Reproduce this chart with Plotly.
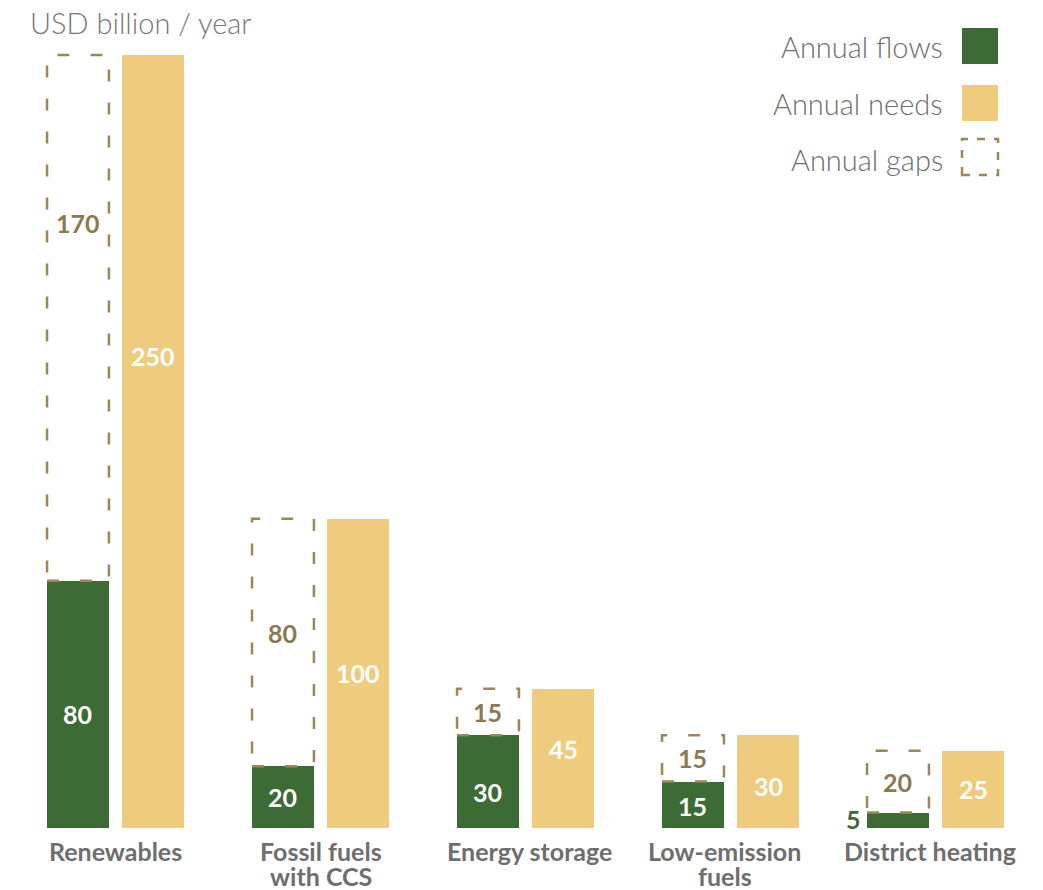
import plotly.graph_objects as go

categories = ["Renewables", "Fossil fuels<br>with CCS", "Energy storage", "Low-emission<br>fuels", "District heating"]
flows = [80, 20, 30, 15, 5]
needs = [250, 100, 45, 30, 25]
gaps = [170, 80, 15, 15, 20]

# label vertical placement (fraction of the segment height) -- styling only
flow_label_frac = [0.46, 0.5, 0.39, 0.47, 0.5]
need_label_frac = [0.61, 0.5, 0.57, 0.45, 0.5]
gap_label_frac = [0.68, 0.54, 0.5, 0.5, 0.5]
# small horizontal nudges of category labels, in px -- styling only
cat_dx = [0, 0, 4, -6, -6]

GREEN = "#3d6b35"
YELLOW = "#eecb7d"
DASH = "#9b8757"
GAPTXT = "#8b7a4f"
GREY = "#6e6e6e"
FONT = "Lato"

W, H = 1043, 890
OFF = 0.183
BW = 0.302
XR = [-115.5 / 205, (W - 115.5) / 205]
YR = [0, 828 / 3.092]

xs = list(range(len(categories)))
xf = [x - OFF for x in xs]
xn = [x + OFF for x in xs]

fig = go.Figure()
fig.add_trace(go.Bar(x=xf, y=flows, width=BW, marker=dict(color=GREEN, line=dict(width=0)),
                     hoverinfo="skip", showlegend=False))
fig.add_trace(go.Bar(x=xn, y=needs, width=BW, marker=dict(color=YELLOW, line=dict(width=0)),
                     hoverinfo="skip", showlegend=False))

# gap boxes
for i in xs:
    fig.add_shape(type="rect", xref="x", yref="y",
                  x0=xf[i] - BW / 2, x1=xf[i] + BW / 2,
                  y0=flows[i], y1=flows[i] + gaps[i],
                  line=dict(color=DASH, width=2.5, dash="12px,21px"),
                  fillcolor="rgba(0,0,0,0)", layer="above")

ann = []
numfont = dict(family=FONT, size=25, color="white", weight="bold")
for i in xs:
    if flows[i] >= 10:
        ann.append(dict(x=xf[i], y=flows[i] * flow_label_frac[i], xref="x", yref="y",
                        text=str(flows[i]), showarrow=False, font=numfont))
    else:
        ann.append(dict(x=xf[i] - BW / 2 - 0.02, y=flows[i] * flow_label_frac[i] + 0.5, xref="x", yref="y",
                        text=str(flows[i]), showarrow=False, xanchor="right",
                        font=dict(family=FONT, size=25, color=GREEN, weight="bold")))
    ann.append(dict(x=xn[i], y=needs[i] * need_label_frac[i], xref="x", yref="y",
                    text=str(needs[i]), showarrow=False, font=numfont))
    ann.append(dict(x=xf[i], y=flows[i] + gaps[i] * gap_label_frac[i], xref="x", yref="y",
                    text=str(gaps[i]), showarrow=False,
                    font=dict(family=FONT, size=25, color=GAPTXT, weight="bold")))

# category labels (one annotation per line for tight line spacing)
for i, cat in enumerate(categories):
    for k, line in enumerate(cat.split("<br>")):
        ann.append(dict(x=xs[i], y=(828 - (851 + 25 * k)) / 828, xref="x", yref="paper",
                        text=line, showarrow=False, yanchor="middle", xshift=cat_dx[i],
                        font=dict(family=FONT, size=25, color=GREY, weight="bold")))

# unit title
ann.append(dict(x=28 / W, y=(828 - 22) / 828, xref="paper", yref="paper", text="USD billion / year",
                showarrow=False, xanchor="left", yanchor="middle",
                font=dict(family=FONT, size=29, color="#777777", weight=300)))

# custom legend
leg_items = [("Annual flows", 46), ("Annual needs", 103), ("Annual gaps", 160)]
for name, cy in leg_items:
    ann.append(dict(x=945 / W, y=(828 - cy) / 828, xref="paper", yref="paper", text=name,
                    showarrow=False, xanchor="right", yanchor="middle",
                    font=dict(family=FONT, size=29, color=GREY, weight=300)))

def pbox(cy):
    return dict(x0=962 / W, x1=998 / W, y0=(828 - cy - 18) / 828, y1=(828 - cy + 18) / 828)

fig.add_shape(type="rect", xref="paper", yref="paper", **pbox(46), fillcolor=GREEN, line=dict(width=0))
fig.add_shape(type="rect", xref="paper", yref="paper", **pbox(103), fillcolor=YELLOW, line=dict(width=0))
fig.add_shape(type="rect", xref="paper", yref="paper", **pbox(157), fillcolor="rgba(0,0,0,0)",
              line=dict(color=DASH, width=2.5, dash="8px,9px"))

fig.update_layout(
    width=W, height=H,
    margin=dict(l=0, r=0, t=0, b=62),
    plot_bgcolor="white", paper_bgcolor="white",
    barmode="overlay", bargap=0,
    annotations=ann,
    xaxis=dict(range=XR, showticklabels=False, showgrid=False, zeroline=False,
               showline=False, ticks="", automargin=False, fixedrange=True),
    yaxis=dict(range=YR, visible=False, showgrid=False, zeroline=False,
               automargin=False, fixedrange=True),
    showlegend=False,
)

fig.write_html("out.html", config={"displayModeBar": False},
               post_script="document.body.style.margin='0';document.body.style.overflow='hidden';")
